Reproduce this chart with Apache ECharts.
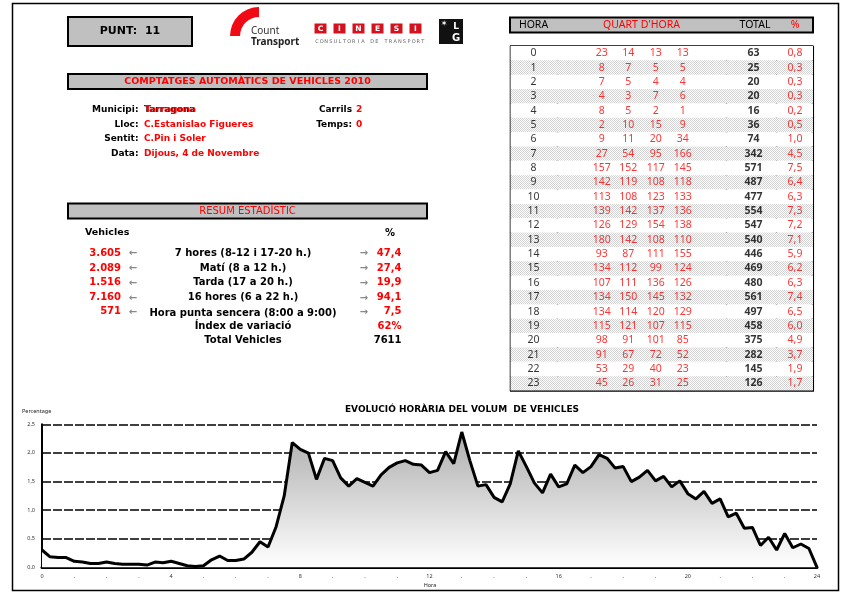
<!DOCTYPE html>
<html><head><meta charset="utf-8">
<script src="https://cdn.jsdelivr.net/npm/echarts@6/dist/echarts.min.js"></script>
<style>html,body{margin:0;padding:0;background:#fff}#c{width:841px;height:593px}</style>
</head><body><div id="c"></div>
<script>
// ---------- DATA ----------
const hours = ['0','1','2','3','4','5','6','7','8','9','10','11','12','13','14','15','16','17','18','19','20','21','22','23'];
const quarter1 = [23,8,7,4,8,2,9,27,157,142,113,139,126,180,93,134,107,134,134,115,98,91,53,45];
const quarter2 = [14,7,5,3,5,10,11,54,152,119,108,142,129,142,87,112,111,150,114,121,91,67,29,26];
const quarter3 = [13,5,4,7,2,15,20,95,117,108,123,137,154,108,111,99,136,145,120,107,101,72,40,31];
const quarter4 = [13,5,4,6,1,9,34,166,145,118,133,136,138,110,155,124,126,132,129,115,85,52,23,25];
const hourTotals = [63,25,20,20,16,36,74,342,571,487,477,554,547,540,446,469,480,561,497,458,375,282,145,126];
const hourPct = ['0,8','0,3','0,3','0,3','0,2','0,5','1,0','4,5','7,5','6,4','6,3','7,3','7,2','7,1','5,9','6,2','6,3','7,4','6,5','6,0','4,9','3,7','1,9','1,7'];
const totalVehicles = 7611;
const endValue = 0; // line closes at 24 h

const statVehicles = ['3.605','2.089','1.516','7.160','571'];
const statLabels = ['7 hores (8-12 i 17-20 h.)','Matí (8 a 12 h.)','Tarda (17 a 20 h.)','16 hores (6 a 22 h.)','Hora punta sencera (8:00 a 9:00)'];
const statPct = ['47,4','27,4','19,9','94,1','7,5'];
const indexVariacio = '62%';

const infoLabels = ['Municipi:','Lloc:','Sentit:','Data:'];
const infoValues = ['Tarragona','C.Estanislao Figueres','C.Pin i Soler','Dijous, 4 de Novembre'];

// ---------- BUILD ----------
const F = "'DejaVu Sans', sans-serif";
const FT = "'Noto Sans', sans-serif";
const RED = '#ff0000';
const chart = echarts.init(document.getElementById('c'), null, {renderer:'canvas'});

// line series: quarter-hour share of total volume
const quarters = [quarter1, quarter2, quarter3, quarter4];
const lineData = [];
hours.forEach((h, i) => {
  quarters.forEach((q, k) => lineData.push([i + k / 4, q[i] / totalVehicles * 100]));
});
lineData.push([24, endValue]);

// pattern for shaded rows
const pc = document.createElement('canvas'); pc.width = 2; pc.height = 2;
const pctx = pc.getContext('2d');
pctx.fillStyle = '#ffffff'; pctx.fillRect(0,0,2,2);
pctx.fillStyle = '#d2d2d2'; pctx.fillRect(0,0,1,1); pctx.fillRect(1,1,1,1);
const pattern = {image: pc, repeat: 'repeat'};

// table columns (x centres relative to table grid)
const colHour = 23, colQ = [91.2,117.8,145.2,172.2], colTot = 243, colPct = 284.5;
function colSeries(x, vals, color, bold, font, size) {
  return {
    type:'scatter', xAxisIndex:1, yAxisIndex:1, symbolSize:1, silent:true,
    itemStyle:{color:'rgba(0,0,0,0)'},
    label:{show:true, position:'inside', color:color, fontFamily:font||FT, fontSize:size||10.5, fontWeight:bold?'bold':'normal',
      formatter: p => p.value[2]},
    data: vals.map((v,i) => [x, i, v])
  };
}

const G = [];
function txt(x,y,t,o){ G.push({type:'text', x:x, y:y, style:Object.assign({text:t, fill:'#000', font:'bold 10px '+F, textVerticalAlign:'middle'}, o||{})}); }
function rect(x,y,w,h,st){ G.push({type:'rect', shape:{x:x,y:y,width:w,height:h}, style:st}); }
function line(x1,y1,x2,y2,w,c){ G.push({type:'line', shape:{x1:x1,y1:y1,x2:x2,y2:y2}, style:{stroke:c||'#000', lineWidth:w||1}}); }

// frame
rect(12.5,3.5,826,587,{fill:'none', stroke:'#000', lineWidth:1.5});
// PUNT box
rect(68,17,124,29,{fill:'#c0c0c0', stroke:'#000', lineWidth:2});
txt(130,31.5,'PUNT:  11',{textAlign:'center', font:'bold 11px '+F});
// Count Transport logo
G.push({type:'sector', shape:{cx:259, cy:36, r:29, r0:19, startAngle:Math.PI, endAngle:1.5*Math.PI}, style:{fill:'#f00a14'}});
txt(251,31,'Count',{font:'10px '+FT, fill:'#333'});
txt(251,42,'Transport',{font:'bold 10px '+FT, fill:'#222'});
// CINESI logo
['C','I','N','E','S','I'].forEach((l,i)=>{
  rect(314.5+i*19,23.5,12,10,{fill:'#d4121e'});
  txt(320.5+i*19,28.7,l,{textAlign:'center', fill:'#fff', font:'bold 7.5px '+F});
});
'CONSULTORIA DE TRANSPORT'.split('').forEach((ch,i)=>{
  txt(317+i*4.6,41.5,ch,{textAlign:'center', fill:'#666', font:'5px '+F});
});
// third logo
rect(439,19,24,25,{fill:'#111'});
txt(444,24,'✶',{textAlign:'center', fill:'#fff', font:'8px '+F});
txt(456,27,'L',{textAlign:'center', fill:'#fff', font:'bold 9px '+F});
txt(456,38,'G',{textAlign:'center', fill:'#fff', font:'bold 10px '+F});

// COMPTATGES box
rect(68,74,359,15,{fill:'#c0c0c0', stroke:'#000', lineWidth:2});
txt(247.5,82,'COMPTATGES AUTOMÀTICS DE VEHICLES 2010',{textAlign:'center', fill:RED, font:'bold 9.5px '+F});
// info
const FI = 'bold 9px '+F;
const infoY = [110,124.5,139,153.5];
infoLabels.forEach((l,i)=>txt(138.5,infoY[i],l,{textAlign:'right', font:FI}));
infoValues.forEach((v,i)=>{
  if(i===0){ txt(144,infoY[i],v,{font:FI, fill:'#600'}); txt(145,infoY[i]-0.5,v,{font:FI, fill:RED}); }
  else txt(144,infoY[i],v,{font:FI, fill:RED});
});
txt(352,110,'Carrils',{textAlign:'right', font:FI});
txt(356,110,'2',{font:FI, fill:RED});
txt(352,124.5,'Temps:',{textAlign:'right', font:FI});
txt(356,124.5,'0',{font:FI, fill:RED});

// RESUM box
rect(68,203.5,359,15,{fill:'#c0c0c0', stroke:'#000', lineWidth:2});
txt(247.5,211,'RESUM ESTADÍSTIC',{textAlign:'center', fill:RED, font:'10px '+F});
txt(85,233,'Vehicles',{font:'bold 9.5px '+F});
txt(390,233,'%',{textAlign:'center', font:'bold 10px '+F});
const statY = [253,268,282.5,297.5,311.5];
statVehicles.forEach((v,i)=>{
  txt(121,statY[i],v,{textAlign:'right', fill:RED, font:'bold 10px '+F});
  txt(133,statY[i]+0.5,'←',{textAlign:'center', fill:'#888', font:'bold 10px '+F});
  txt(243,i===4?statY[i]+1.5:statY[i],statLabels[i],{textAlign:'center', font:'bold 10px '+F});
  txt(364,statY[i]+0.5,'→',{textAlign:'center', fill:'#888', font:'bold 10px '+F});
  txt(401.5,statY[i],statPct[i],{textAlign:'right', fill:RED, font:'bold 10px '+F});
});
txt(243,326,'Índex de variació',{textAlign:'center', font:'bold 10px '+F});
txt(401.5,326,indexVariacio,{textAlign:'right', fill:RED, font:'bold 10px '+F});
txt(243,340,'Total Vehicles',{textAlign:'center', font:'bold 10px '+F});
txt(401.5,340,String(totalVehicles),{textAlign:'right', font:'bold 10px '+F});

// table header
rect(510,17.5,303,15,{fill:'#c0c0c0', stroke:'#000', lineWidth:2});
txt(533.5,25.5,'HORA',{textAlign:'center', font:'10.5px '+FT});
txt(641.5,25.5,"QUART D'HORA",{textAlign:'center', fill:RED, font:'10.5px '+FT});
txt(755,25.5,'TOTAL',{textAlign:'center', font:'10.5px '+FT});
txt(795,25.5,'%',{textAlign:'center', fill:RED, font:'10.5px '+FT});
// table body borders
line(510.5,46,510.5,391,1.5);
line(510,46,813.5,46,1.5);
line(510,390.5,814,390.5,2.5);
line(812.8,46,812.8,391,2.5);
[557.5,726.5,776.5].forEach(x=>line(x,46,x,390,1.5));

// chart title & axis names
txt(462,409.5,'EVOLUCIÓ HORÀRIA DEL VOLUM  DE VEHICLES',{textAlign:'center', font:'bold 9px '+F});
txt(22,411,'Percentage',{font:'5.5px '+FT, fill:'#222'});
txt(430,585,'Hora',{textAlign:'center', font:'5.5px '+FT, fill:'#222'});

const option = {
  animation:false,
  grid:[
    {left:42, right:24, top:424.3, bottom:25.7, containLabel:false},
    {left:510.5, top:46, width:302.5, height:344.5}
  ],
  xAxis:[
    {type:'value', gridIndex:0, min:0, max:24, interval:1,
      axisLine:{show:true, lineStyle:{color:'#000', width:3}}, axisTick:{show:false},
      axisLabel:{fontSize:5.5, color:'#333', fontFamily:FT, margin:6, formatter:v=> (v%4===0 ? String(v) : '.')},
      splitLine:{show:false}},
    {type:'value', gridIndex:1, min:0, max:302.5, show:false}
  ],
  yAxis:[
    {type:'value', gridIndex:0, min:0, max:2.5, interval:0.5,
      axisLine:{show:true, lineStyle:{color:'#000', width:2}}, axisTick:{show:false},
      axisLabel:{fontSize:5.5, color:'#333', fontFamily:FT, margin:7, formatter:v=>v.toFixed(1).replace('.',',')},
      splitLine:{show:true, lineStyle:{color:'#000', width:1.5, type:[9,2]}}},
    {type:'category', gridIndex:1, data:hours, inverse:true, boundaryGap:true,
      axisLine:{show:false}, axisTick:{show:false}, axisLabel:{show:false, interval:0},
      splitLine:{show:false},
      splitArea:{show:true, interval:0, areaStyle:{color:['#ffffff', pattern]}}}
  ],
  series:[
    {type:'line', xAxisIndex:0, yAxisIndex:0, data:lineData, showSymbol:false, symbol:'none',
      lineStyle:{color:'#000', width:3}, z:3,
      areaStyle:{opacity:1, color:{type:'linear', x:0, y:424, x2:0, y2:567, global:true,
        colorStops:[{offset:0, color:'#a9a9a9'},{offset:1, color:'#ffffff'}]}}},
    colSeries(colHour, hours, '#000', false),
    colSeries(colQ[0], quarter1, RED, false),
    colSeries(colQ[1], quarter2, RED, false),
    colSeries(colQ[2], quarter3, RED, false),
    colSeries(colQ[3], quarter4, RED, false),
    colSeries(colTot, hourTotals, '#000', true),
    colSeries(colPct, hourPct, RED, false)
  ],
  graphic: G
};
chart.setOption(option);
</script></body></html>
